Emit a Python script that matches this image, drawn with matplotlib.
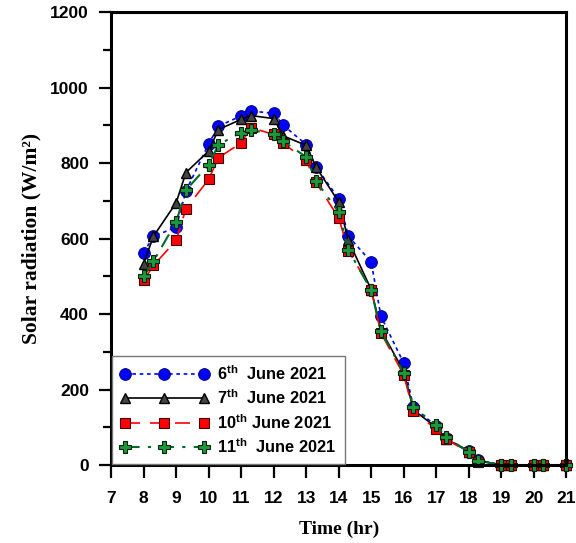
import matplotlib
matplotlib.use('Agg')
import matplotlib.pyplot as plt
from matplotlib.ticker import MultipleLocator

# hours of the measurements
time_hr = [8, 8.3, 9, 9.3, 10, 10.3, 11, 11.3, 12, 12.3, 13, 13.3, 14, 14.3,
           15, 15.3, 16, 16.3, 17, 17.3, 18, 18.3, 19, 19.3, 20, 20.3, 21]

# solar radiation (W/m2) for each day
june6 = [563, 606, 630, 726, 851, 898, 925, 938, 932, 900, 849, 790, 706, 606,
         538, 394, 270, 153, 103, 71, 37, 13, 0, 0, 0, 0, 0]
june7 = [534, 606, 695, 775, 832, 889, 916, 926, 918, 872, 847, 790, 697, 595,
         465, 358, 248, 146, 100, 70, 35, 12, 0, 0, 0, 0, 0]
june10 = [489, 529, 595, 679, 757, 814, 854, 894, 876, 852, 807, 749, 655, 568,
          465, 350, 239, 142, 95, 68, 35, 9, 0, 0, 0, 0, 0]
june11 = [500, 540, 644, 728, 796, 849, 881, 888, 876, 858, 816, 753, 670, 570,
          463, 354, 245, 153, 106, 74, 35, 11, 0, 0, 0, 0, 0]

labels = [r'6$^{\mathbf{th}}$  June 2021', r'7$^{\mathbf{th}}$  June 2021',
          r'10$^{\mathbf{th}}$ June 2021', r'11$^{\mathbf{th}}$  June 2021']

plt.rcParams['mathtext.fontset'] = 'custom'
plt.rcParams['mathtext.bf'] = 'Liberation Sans:bold'
plt.rcParams['mathtext.rm'] = 'Liberation Sans:bold'

fig = plt.figure(figsize=(5.76, 5.43), dpi=100)
ax = fig.add_axes([0.193, 0.1436, 0.79, 0.834])

ax.plot(time_hr, june6, linestyle=(0, (2.2, 2.2)), color='blue', lw=1.2,
        marker='o', markersize=8.5, markerfacecolor='blue',
        markeredgecolor='#000060', markeredgewidth=0.6, label=labels[0],
        clip_on=False)
ax.plot(time_hr, june7, linestyle='-', color='black', lw=1.2,
        marker='^', markersize=7.5, markerfacecolor='#444444',
        markeredgecolor='black', markeredgewidth=1.0, label=labels[1],
        clip_on=False)
ax.plot(time_hr, june10, linestyle=(0, (9, 6)), color='red', lw=1.2,
        marker='s', markersize=7, markerfacecolor='red',
        markeredgecolor='#400000', markeredgewidth=0.8, label=labels[2],
        clip_on=False)
ax.plot(time_hr, june11, linestyle=(0, (7, 4, 1.5, 4)), color='#006a2a', lw=1.5,
        marker='P', markersize=9, markerfacecolor='#1a9a3a',
        markeredgecolor='#102010', markeredgewidth=0.8, label=labels[3],
        clip_on=False)

ax.set_xlim(7, 21)
ax.set_ylim(0, 1200)
ax.xaxis.set_major_locator(MultipleLocator(1))
ax.yaxis.set_major_locator(MultipleLocator(200))
ax.yaxis.set_minor_locator(MultipleLocator(100))

for s in ax.spines.values():
    s.set_linewidth(2.2)

ax.tick_params(axis='both', which='major', direction='out', length=9,
               width=1.6)
ax.tick_params(axis='x', which='major', pad=10)
ax.tick_params(axis='y', which='major', pad=7)
ax.tick_params(axis='y', which='minor', direction='out', length=6, width=1.6)
for lab in ax.get_xticklabels() + ax.get_yticklabels():
    lab.set_fontfamily('Liberation Sans')
    lab.set_fontweight('bold')
    lab.set_fontsize(12.5)

ax.set_xlabel('Time (hr)', fontfamily='Liberation Serif', fontweight='bold',
              fontsize=14, labelpad=10)
ax.set_ylabel('Solar radiation (W/m\u00b2)', fontfamily='Liberation Serif',
              fontweight='bold', fontsize=15.5, labelpad=6)

leg = ax.legend(loc='lower left', borderaxespad=0.05, numpoints=3,
                handlelength=5.4, fancybox=False, framealpha=1,
                edgecolor='#777777', labelspacing=0.35, handletextpad=0.5,
                borderpad=0.5,
                prop={'family': 'Liberation Sans', 'weight': 'bold', 'size': 11.8})
leg.get_frame().set_linewidth(1.0)

fig.savefig('out.png', dpi=100)
